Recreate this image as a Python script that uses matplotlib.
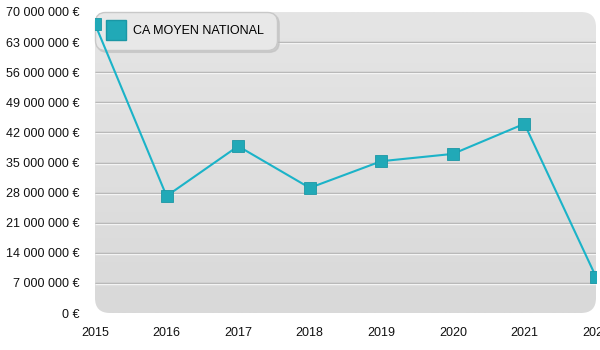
import matplotlib
matplotlib.use("Agg")
import matplotlib.pyplot as plt
import matplotlib.transforms as mtransforms
from matplotlib.patches import FancyBboxPatch
from matplotlib.lines import Line2D
from matplotlib.colors import LinearSegmentedColormap
import numpy as np

years = [2015, 2016, 2017, 2018, 2019, 2020, 2021, 2022]
values = [67.2e6, 27.2e6, 38.8e6, 29.1e6, 35.3e6, 37.0e6, 44.0e6, 8.4e6]
yticks = [0, 7e6, 14e6, 21e6, 28e6, 35e6, 42e6, 49e6, 56e6, 63e6, 70e6]
series_name = "CA MOYEN NATIONAL"

plt.rcParams['font.family'] = ['Liberation Sans', 'DejaVu Sans']

fig = plt.figure(figsize=(6, 3.5), dpi=100)
ax = fig.add_axes([95/600, 37/350, 501/600, 301/350])
ax.set_xlim(2015, 2022)
ax.set_ylim(0, 70e6)
ax.patch.set_visible(False)

# rounded background with gradient
bg = FancyBboxPatch((0, 0), 1, 1, boxstyle="round,pad=0,rounding_size=0.03",
                    transform=ax.transAxes, facecolor='none', edgecolor='none',
                    lw=0, zorder=0, mutation_aspect=501/301)
ax.add_patch(bg)
grad = np.linspace(0, 1, 256).reshape(-1, 1)
cm = LinearSegmentedColormap.from_list('g', ['#d9d9d9', '#e5e5e5'])
im = ax.imshow(grad, extent=[2015, 2022, 0, 70e6], aspect='auto', cmap=cm,
               origin='lower', zorder=0)
im.set_clip_path(bg)

# grid lines
off = mtransforms.offset_copy(ax.transData, fig=fig, x=0, y=-1, units='dots')
for t in yticks[1:-1]:
    ax.plot([2015, 2022], [t, t], color='#ababab', lw=1.0, zorder=1, solid_capstyle='butt')
    ax.plot([2015, 2022], [t, t], color='#f4f4f4', lw=1.0, zorder=1, transform=off, solid_capstyle='butt')

ax.plot(years, values, color='#1bb3c8', lw=1.5, zorder=3, clip_on=True)
ax.plot(years, values, linestyle='none', marker='s', markersize=9,
        markerfacecolor='#21a9b7', markeredgecolor='#1b97a5', markeredgewidth=0.6,
        zorder=4, clip_on=True)

def fmt(v):
    s = f"{int(v):,}".replace(",", " ")
    return s + " €"

ax.set_yticks(yticks)
ax.set_yticklabels([fmt(v) for v in yticks])
ax.set_xticks(years)
ax.set_xticklabels([str(y) for y in years])
ax.tick_params(axis='both', length=0, labelsize=9, colors='#111111')
ax.tick_params(axis='y', pad=11)
ax.tick_params(axis='x', pad=10)
for s in ax.spines.values():
    s.set_visible(False)

handle = Line2D([], [], linestyle='none', marker='s', markersize=14,
                markerfacecolor='#21a9b7', markeredgecolor='#1b97a5')
leg = ax.legend([handle], [series_name], loc='upper left',
                bbox_to_anchor=(0.0, 1.0), frameon=True, fancybox=True,
                shadow={'color': '#bdbdbd', 'alpha': 0.6, 'ox': 1.5, 'oy': -1.5},
                fontsize=9, handlelength=1.2, handletextpad=0.8,
                borderpad=1.05, borderaxespad=0.0)
fr = leg.get_frame()
fr.set_facecolor('#e8e8e8')
fr.set_edgecolor('#c8c8c8')
fr.set_alpha(1)
fr.set_boxstyle('round,pad=0,rounding_size=0.8')
leg.set_zorder(2.5)

fig.savefig("out.png", dpi=100)
